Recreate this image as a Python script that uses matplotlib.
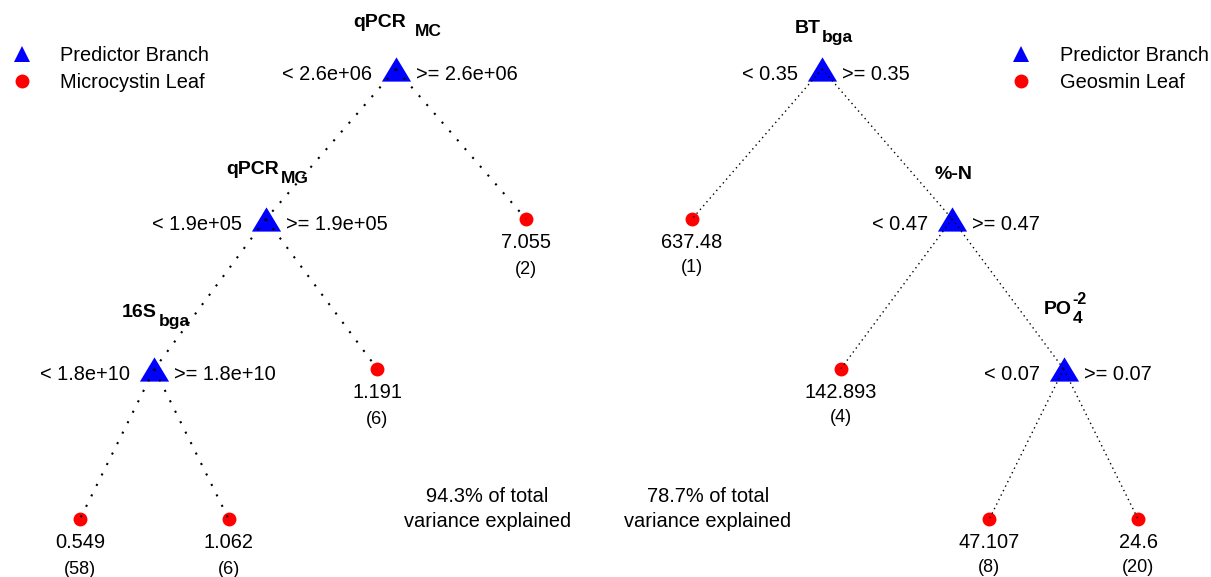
import numpy as np
import matplotlib
matplotlib.use('Agg')
import matplotlib.pyplot as plt
from matplotlib.lines import Line2D

plt.rcParams['font.family'] = ['Liberation Sans', 'DejaVu Sans']

# ---------------- Data ----------------
# Microcystin regression tree (pre-order, "<" branch first)
mc_parent = [-1, 0, 1, 2, 2, 1, 0]
mc_var = ['qPCR', 'qPCR', '16S', '', '', '', '']
mc_var_sub = ['MC', 'MG', 'bga', '', '', '', '']
mc_var_sup = ['', '', '', '', '', '', '']
mc_cut = ['2.6e+06', '1.9e+05', '1.8e+10', '', '', '', '']
mc_leaf_value = [np.nan, np.nan, np.nan, 0.549, 1.062, 1.191, 7.055]
mc_leaf_n = [0, 0, 0, 58, 6, 6, 2]
mc_r2 = 94.3
mc_leaf_name = 'Microcystin Leaf'

# Geosmin regression tree
geo_parent = [-1, 0, 0, 2, 2, 4, 4]
geo_var = ['BT', '', '%-N', '', 'PO', '', '']
geo_var_sub = ['bga', '', '', '', '4', '', '']
geo_var_sup = ['', '', '', '', '-2', '', '']
geo_cut = ['0.35', '', '0.47', '', '0.07', '', '']
geo_leaf_value = [np.nan, 637.48, np.nan, 142.893, np.nan, 47.107, 24.6]
geo_leaf_n = [0, 1, 0, 4, 0, 8, 20]
geo_r2 = 78.7
geo_leaf_name = 'Geosmin Leaf'

# ---------------- Layout / style ----------------
W, H, DPI = 1211, 577, 100
LEVEL_PX = 150.0
LEAF_PX = 148.67
ROOT_Y_PX = 69.0

mc_label_lift = [42, 45, 52, 0, 0, 0, 0]
mc_sub_gap = [9, 2, 2, 0, 0, 0, 0]
geo_label_lift = [36, 0, 40, 0, 55, 0, 0]
geo_sub_gap = [1, 0, 0, 0, 1, 0, 0]

TRI = [(-1, -0.83), (1, -0.83), (0, 0.83)]
FS = 14.4


def layout(parent):
    n = len(parent)
    children = [[] for _ in range(n)]
    for i, p in enumerate(parent):
        if p >= 0:
            children[p].append(i)
    depth = np.zeros(n)
    for i in range(n):
        if parent[i] >= 0:
            depth[i] = depth[parent[i]] + 1
    x = np.zeros(n)
    counter = [0]

    def visit(i):
        if not children[i]:
            x[i] = counter[0]
            counter[0] += 1
        else:
            for c in children[i]:
                visit(c)
            x[i] = np.mean([x[c] for c in children[i]])
    visit(0)
    return x, depth, children


fig = plt.figure(figsize=(W / DPI, H / DPI), dpi=DPI)
labels_to_center = []


def draw_tree(ax_px, leaf0_px, parent, var, sub, sup, cut, leaf_value, leaf_n,
              lift, gap, lw, dash, count_off):
    x0, x1 = ax_px
    ax = fig.add_axes([x0 / W, 0, (x1 - x0) / W, 1])
    xmin = -(leaf0_px - x0) / LEAF_PX
    ax.set_xlim(xmin, xmin + (x1 - x0) / LEAF_PX)
    ytop = -ROOT_Y_PX / LEVEL_PX
    ax.set_ylim(ytop + H / LEVEL_PX, ytop)
    ax.axis('off')

    x, y, children = layout(parent)
    n = len(parent)
    for i in range(n):
        p = parent[i]
        if p >= 0:
            ax.plot([x[p], x[i]], [y[p], y[i]], color='black', lw=lw,
                    ls=(0, dash), zorder=3)
    internal = np.array([len(c) > 0 for c in children])
    ax.plot(x[internal], y[internal], ls='none', marker=TRI, ms=21,
            color='blue', mew=0, zorder=2)
    ax.plot(x[~internal], y[~internal], ls='none', marker='o', ms=10,
            color='red', mew=0, zorder=2)

    for i in range(n):
        if internal[i]:
            ax.annotate('< ' + cut[i], (x[i], y[i]), xytext=(-24, -11),
                        textcoords='offset pixels', ha='right', va='baseline',
                        fontsize=FS)
            ax.annotate('>= ' + cut[i], (x[i], y[i]), xytext=(20, -11),
                        textcoords='offset pixels', ha='left', va='baseline',
                        fontsize=FS)
            main = ax.annotate(var[i], (x[i], y[i]), xytext=(0, lift[i]),
                               textcoords='offset pixels', ha='left',
                               va='baseline', fontsize=14, fontweight='bold')
            extra = []
            if sub[i]:
                extra.append(ax.annotate(sub[i], (1, 0), xycoords=main,
                                         xytext=(gap[i], -5),
                                         textcoords='offset pixels', ha='left',
                                         va='baseline', fontsize=12.5,
                                         fontweight='bold'))
            if sup[i]:
                extra.append(ax.annotate(sup[i], (1, 0), xycoords=main,
                                         xytext=(gap[i], 14),
                                         textcoords='offset pixels', ha='left',
                                         va='baseline', fontsize=11.5,
                                         fontweight='bold'))
            labels_to_center.append((main, extra, lift[i]))
        else:
            ax.annotate('{:g}'.format(leaf_value[i]), (x[i], y[i]),
                        xytext=(0, -29), textcoords='offset pixels',
                        ha='center', va='baseline', fontsize=FS)
            ax.annotate('({})'.format(leaf_n[i]), (x[i], y[i]),
                        xytext=(0, -count_off), textcoords='offset pixels',
                        ha='center', va='baseline', fontsize=13)
    return ax


ax_l = draw_tree((0, 605), 80, mc_parent, mc_var, mc_var_sub, mc_var_sup,
                 mc_cut, mc_leaf_value, mc_leaf_n, mc_label_lift, mc_sub_gap,
                 1.5, (1, 4.6), 55)
ax_r = draw_tree((605, 1211), 692, geo_parent, geo_var, geo_var_sub,
                 geo_var_sup, geo_cut, geo_leaf_value, geo_leaf_n,
                 geo_label_lift, geo_sub_gap, 1.0, (1, 2.6), 53)

ax_l.text(487.5 / 605, 1 - 509 / H, '{}% of total\nvariance explained'.format(mc_r2),
          transform=ax_l.transAxes, ha='center', va='center', fontsize=FS,
          linespacing=1.38)
ax_r.text((708 - 605) / 606, 1 - 509 / H, '{}% of total\nvariance explained'.format(geo_r2),
          transform=ax_r.transAxes, ha='center', va='center', fontsize=FS,
          linespacing=1.38)

for leaf_name, anchor_x in ((mc_leaf_name, 6.5), (geo_leaf_name, 1006)):
    handles = [Line2D([], [], ls='none', marker='^', ms=12, color='blue', mew=0),
               Line2D([], [], ls='none', marker='o', ms=10, color='red', mew=0)]
    fig.legend(handles, ['Predictor Branch', leaf_name], loc='upper left',
               bbox_to_anchor=(anchor_x / W, 1 - 46.4 / H), frameon=False,
               fontsize=FS, handlelength=1.5, handletextpad=1.2, borderpad=0,
               borderaxespad=0, labelspacing=0.37, numpoints=1)

# centre each predictor label (main + sub/superscript) over its node
fig.canvas.draw()
r = fig.canvas.get_renderer()
for main, extra, lift in labels_to_center:
    bbs = [main.get_window_extent(r)] + [e.get_window_extent(r) for e in extra]
    left = bbs[0].x0
    right = max(b.x1 for b in bbs)
    main.xyann = (-(right - left) / 2 + 1.5, lift)

fig.savefig('out.png', dpi=DPI)
